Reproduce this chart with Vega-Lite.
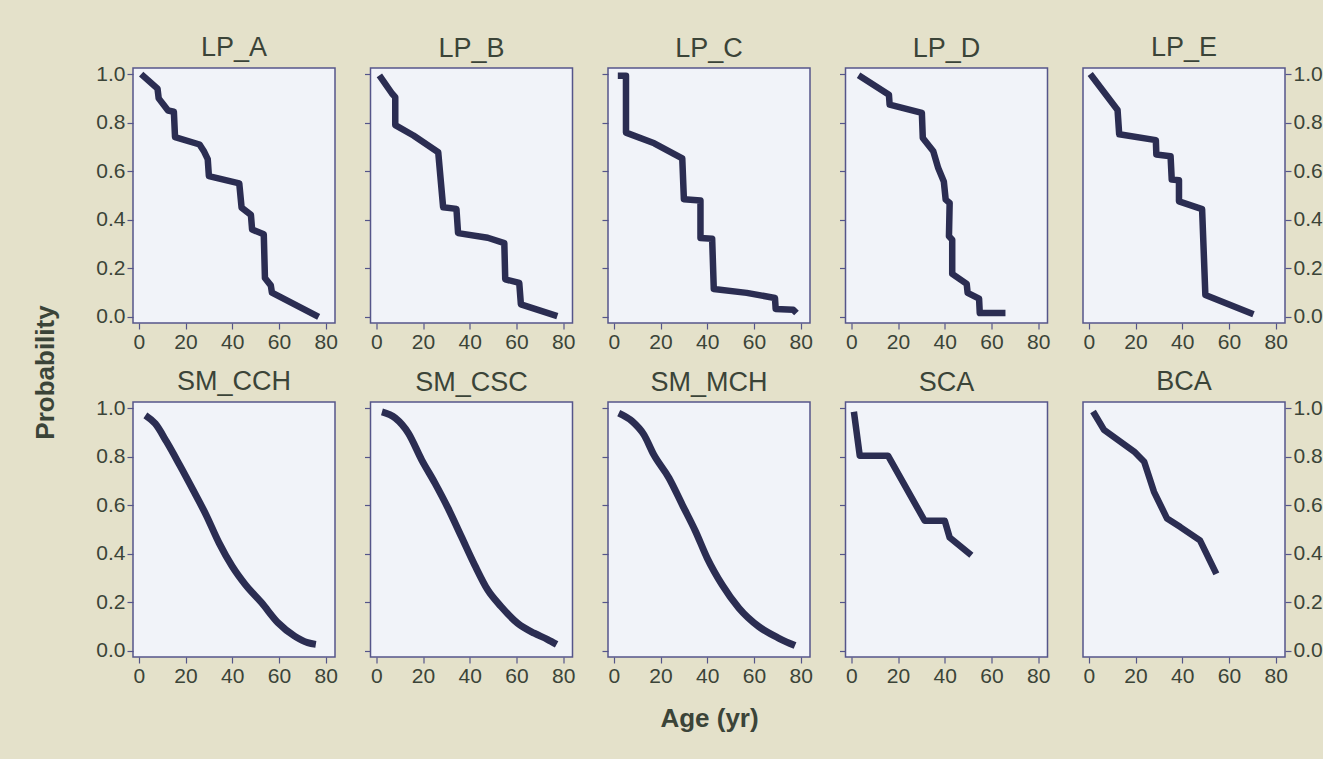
{
  "$schema": "https://vega.github.io/schema/vega-lite/v6.json",
  "background": "#e4e1ca",
  "padding": {"left": 31, "top": 33, "right": 0, "bottom": 40},
  "config": {
    "font": "Liberation Sans",
    "view": {"fill": "#f1f3f9", "stroke": "#55558a", "strokeWidth": 1.5},
    "axis": {
      "domain": false, "grid": false,
      "tickColor": "#55558a", "tickSize": 6, "tickWidth": 1.2,
      "labelFont": "Liberation Sans", "labelFontSize": 21, "labelColor": "#3b4438", "labelPadding": 2,
      "titleFont": "Liberation Sans", "titleFontSize": 26, "titleFontWeight": "bold", "titleColor": "#3b4438"
    },
    "title": {"font": "Liberation Sans", "fontSize": 27, "fontWeight": "normal", "color": "#3b4438", "offset": 5, "frame": "group"}
  },
  "data": {"values": [
    {"p":"LP_A","i":1,"age":1,"prob":1.0},{"p":"LP_A","i":2,"age":8,"prob":0.94},{"p":"LP_A","i":3,"age":8.5,"prob":0.9},{"p":"LP_A","i":4,"age":12.5,"prob":0.85},{"p":"LP_A","i":5,"age":15,"prob":0.845},{"p":"LP_A","i":6,"age":15.5,"prob":0.74},{"p":"LP_A","i":7,"age":26,"prob":0.71},{"p":"LP_A","i":8,"age":28,"prob":0.68},{"p":"LP_A","i":9,"age":29.5,"prob":0.65},{"p":"LP_A","i":10,"age":30,"prob":0.58},{"p":"LP_A","i":11,"age":43,"prob":0.55},{"p":"LP_A","i":12,"age":44,"prob":0.45},{"p":"LP_A","i":13,"age":48,"prob":0.42},{"p":"LP_A","i":14,"age":48.5,"prob":0.36},{"p":"LP_A","i":15,"age":53.5,"prob":0.34},{"p":"LP_A","i":16,"age":54,"prob":0.16},{"p":"LP_A","i":17,"age":56.5,"prob":0.13},{"p":"LP_A","i":18,"age":57,"prob":0.1},{"p":"LP_A","i":19,"age":77,"prob":0.0},
    {"p":"LP_B","i":1,"age":1.3,"prob":0.995},{"p":"LP_B","i":2,"age":6.7,"prob":0.92},{"p":"LP_B","i":3,"age":8.1,"prob":0.905},{"p":"LP_B","i":4,"age":8.1,"prob":0.79},{"p":"LP_B","i":5,"age":15.9,"prob":0.747},{"p":"LP_B","i":6,"age":26.5,"prob":0.678},{"p":"LP_B","i":7,"age":28.6,"prob":0.452},{"p":"LP_B","i":8,"age":34.3,"prob":0.445},{"p":"LP_B","i":9,"age":35,"prob":0.345},{"p":"LP_B","i":10,"age":47.7,"prob":0.326},{"p":"LP_B","i":11,"age":54.8,"prob":0.304},{"p":"LP_B","i":12,"age":55.2,"prob":0.155},{"p":"LP_B","i":13,"age":61.2,"prob":0.14},{"p":"LP_B","i":14,"age":61.9,"prob":0.052},{"p":"LP_B","i":15,"age":77.5,"prob":0.003},
    {"p":"LP_C","i":1,"age":1.7,"prob":0.993},{"p":"LP_C","i":2,"age":5.2,"prob":0.993},{"p":"LP_C","i":3,"age":5.2,"prob":0.759},{"p":"LP_C","i":4,"age":17.3,"prob":0.715},{"p":"LP_C","i":5,"age":29.3,"prob":0.653},{"p":"LP_C","i":6,"age":30,"prob":0.485},{"p":"LP_C","i":7,"age":37.1,"prob":0.479},{"p":"LP_C","i":8,"age":37.1,"prob":0.325},{"p":"LP_C","i":9,"age":42.1,"prob":0.322},{"p":"LP_C","i":10,"age":42.8,"prob":0.115},{"p":"LP_C","i":11,"age":56.9,"prob":0.099},{"p":"LP_C","i":12,"age":69,"prob":0.078},{"p":"LP_C","i":13,"age":69.3,"prob":0.033},{"p":"LP_C","i":14,"age":76.8,"prob":0.03},{"p":"LP_C","i":15,"age":78.2,"prob":0.016},
    {"p":"LP_D","i":1,"age":3.1,"prob":0.995},{"p":"LP_D","i":2,"age":16.1,"prob":0.915},{"p":"LP_D","i":3,"age":16.4,"prob":0.874},{"p":"LP_D","i":4,"age":30.2,"prob":0.84},{"p":"LP_D","i":5,"age":30.6,"prob":0.737},{"p":"LP_D","i":6,"age":35.1,"prob":0.682},{"p":"LP_D","i":7,"age":37.2,"prob":0.613},{"p":"LP_D","i":8,"age":39.6,"prob":0.558},{"p":"LP_D","i":9,"age":40.4,"prob":0.483},{"p":"LP_D","i":10,"age":42.1,"prob":0.469},{"p":"LP_D","i":11,"age":41.8,"prob":0.332},{"p":"LP_D","i":12,"age":43.2,"prob":0.318},{"p":"LP_D","i":13,"age":43.2,"prob":0.177},{"p":"LP_D","i":14,"age":49.4,"prob":0.136},{"p":"LP_D","i":15,"age":49.8,"prob":0.099},{"p":"LP_D","i":16,"age":54.7,"prob":0.075},{"p":"LP_D","i":17,"age":55,"prob":0.016},{"p":"LP_D","i":18,"age":66,"prob":0.016},
    {"p":"LP_E","i":1,"age":0.6,"prob":1.0},{"p":"LP_E","i":2,"age":12.3,"prob":0.852},{"p":"LP_E","i":3,"age":13,"prob":0.752},{"p":"LP_E","i":4,"age":28.7,"prob":0.728},{"p":"LP_E","i":5,"age":28.9,"prob":0.669},{"p":"LP_E","i":6,"age":35,"prob":0.662},{"p":"LP_E","i":7,"age":35.5,"prob":0.566},{"p":"LP_E","i":8,"age":38.6,"prob":0.563},{"p":"LP_E","i":9,"age":38.6,"prob":0.476},{"p":"LP_E","i":10,"age":48.5,"prob":0.444},{"p":"LP_E","i":11,"age":49.9,"prob":0.09},{"p":"LP_E","i":12,"age":70.5,"prob":0.011},
    {"p":"SM_CCH","i":1,"age":2.8,"prob":0.97},{"p":"SM_CCH","i":2,"age":7,"prob":0.936},{"p":"SM_CCH","i":3,"age":11.9,"prob":0.861},{"p":"SM_CCH","i":4,"age":17.5,"prob":0.765},{"p":"SM_CCH","i":5,"age":23.2,"prob":0.663},{"p":"SM_CCH","i":6,"age":28.8,"prob":0.56},{"p":"SM_CCH","i":7,"age":34.4,"prob":0.444},{"p":"SM_CCH","i":8,"age":40,"prob":0.348},{"p":"SM_CCH","i":9,"age":45.6,"prob":0.273},{"p":"SM_CCH","i":10,"age":52.6,"prob":0.198},{"p":"SM_CCH","i":11,"age":59.6,"prob":0.116},{"p":"SM_CCH","i":12,"age":66.7,"prob":0.061},{"p":"SM_CCH","i":13,"age":72.3,"prob":0.034},{"p":"SM_CCH","i":14,"age":75.8,"prob":0.027},
    {"p":"SM_CSC","i":1,"age":2.4,"prob":0.984},{"p":"SM_CSC","i":2,"age":8.1,"prob":0.959},{"p":"SM_CSC","i":3,"age":13.7,"prob":0.897},{"p":"SM_CSC","i":4,"age":19.4,"prob":0.787},{"p":"SM_CSC","i":5,"age":25.1,"prob":0.691},{"p":"SM_CSC","i":6,"age":30.7,"prob":0.588},{"p":"SM_CSC","i":7,"age":36.4,"prob":0.471},{"p":"SM_CSC","i":8,"age":42.1,"prob":0.354},{"p":"SM_CSC","i":9,"age":47.7,"prob":0.251},{"p":"SM_CSC","i":10,"age":53.4,"prob":0.183},{"p":"SM_CSC","i":11,"age":60.5,"prob":0.114},{"p":"SM_CSC","i":12,"age":67.6,"prob":0.073},{"p":"SM_CSC","i":13,"age":73.2,"prob":0.048},{"p":"SM_CSC","i":14,"age":77.2,"prob":0.027},
    {"p":"SM_MCH","i":1,"age":2.1,"prob":0.979},{"p":"SM_MCH","i":2,"age":7.9,"prob":0.945},{"p":"SM_MCH","i":3,"age":12.9,"prob":0.89},{"p":"SM_MCH","i":4,"age":17.1,"prob":0.808},{"p":"SM_MCH","i":5,"age":23.6,"prob":0.712},{"p":"SM_MCH","i":6,"age":29.3,"prob":0.602},{"p":"SM_MCH","i":7,"age":35,"prob":0.492},{"p":"SM_MCH","i":8,"age":40,"prob":0.382},{"p":"SM_MCH","i":9,"age":46.4,"prob":0.272},{"p":"SM_MCH","i":10,"age":53.6,"prob":0.176},{"p":"SM_MCH","i":11,"age":62.1,"prob":0.1},{"p":"SM_MCH","i":12,"age":70.7,"prob":0.052},{"p":"SM_MCH","i":13,"age":77.6,"prob":0.022},
    {"p":"SCA","i":1,"age":1.1,"prob":0.985},{"p":"SCA","i":2,"age":3.6,"prob":0.804},{"p":"SCA","i":3,"age":15.7,"prob":0.804},{"p":"SCA","i":4,"age":31.4,"prob":0.536},{"p":"SCA","i":5,"age":40,"prob":0.536},{"p":"SCA","i":6,"age":42.1,"prob":0.467},{"p":"SCA","i":7,"age":51.4,"prob":0.394},
    {"p":"BCA","i":1,"age":1.8,"prob":0.986},{"p":"BCA","i":2,"age":6.5,"prob":0.91},{"p":"BCA","i":3,"age":19.4,"prob":0.821},{"p":"BCA","i":4,"age":23.7,"prob":0.779},{"p":"BCA","i":5,"age":27.9,"prob":0.655},{"p":"BCA","i":6,"age":33.5,"prob":0.545},{"p":"BCA","i":7,"age":39.2,"prob":0.51},{"p":"BCA","i":8,"age":47.6,"prob":0.455},{"p":"BCA","i":9,"age":54.6,"prob":0.317}
  ]},
  "columns": 5,
  "spacing": {"row": 79, "column": 35.5},
  "bounds": "flush",
  "concat": [
      {"width": 202, "height": 255, "title": {"text": "LP_A", "dy": 4}, "transform": [{"filter": "datum.p === 'LP_A'"}],
       "mark": {"type": "line", "color": "#2b2d52", "strokeWidth": 6.5, "strokeJoin": "round"},
       "encoding": {"x": {"field": "age", "type": "quantitative", "scale": {"domain": [-2.5, 84], "nice": false, "zero": false}, "axis": {"values": [0,20,40,60,80], "format": "d", "title": null}},
        "y": {"field": "prob", "type": "quantitative", "scale": {"domain": [-0.025, 1.025], "nice": false, "zero": false}, "axis": {"values": [0,0.2,0.4,0.6,0.8,1.0], "format": ".1f", "title": "Probability", "titleX": -75, "titleY": 304}},
        "order": {"field": "i"}}},
      {"width": 202, "height": 255, "title": "LP_B", "transform": [{"filter": "datum.p === 'LP_B'"}],
       "mark": {"type": "line", "color": "#2b2d52", "strokeWidth": 6.5, "strokeJoin": "round"},
       "encoding": {"x": {"field": "age", "type": "quantitative", "scale": {"domain": [-2.5, 84], "nice": false, "zero": false}, "axis": {"values": [0,20,40,60,80], "format": "d", "title": null}},
        "y": {"field": "prob", "type": "quantitative", "scale": {"domain": [-0.025, 1.025], "nice": false, "zero": false}, "axis": {"values": [0,0.2,0.4,0.6,0.8,1.0], "labels": false, "title": null}},
        "order": {"field": "i"}}},
      {"width": 202, "height": 255, "title": "LP_C", "transform": [{"filter": "datum.p === 'LP_C'"}],
       "mark": {"type": "line", "color": "#2b2d52", "strokeWidth": 6.5, "strokeJoin": "round"},
       "encoding": {"x": {"field": "age", "type": "quantitative", "scale": {"domain": [-2.5, 84], "nice": false, "zero": false}, "axis": {"values": [0,20,40,60,80], "format": "d", "title": null}},
        "y": {"field": "prob", "type": "quantitative", "scale": {"domain": [-0.025, 1.025], "nice": false, "zero": false}, "axis": {"values": [0,0.2,0.4,0.6,0.8,1.0], "labels": false, "title": null}},
        "order": {"field": "i"}}},
      {"width": 202, "height": 255, "title": "LP_D", "transform": [{"filter": "datum.p === 'LP_D'"}],
       "mark": {"type": "line", "color": "#2b2d52", "strokeWidth": 6.5, "strokeJoin": "round"},
       "encoding": {"x": {"field": "age", "type": "quantitative", "scale": {"domain": [-2.5, 84], "nice": false, "zero": false}, "axis": {"values": [0,20,40,60,80], "format": "d", "title": null}},
        "y": {"field": "prob", "type": "quantitative", "scale": {"domain": [-0.025, 1.025], "nice": false, "zero": false}, "axis": {"values": [0,0.2,0.4,0.6,0.8,1.0], "labels": false, "title": null}},
        "order": {"field": "i"}}},
      {"width": 202, "height": 255, "title": {"text": "LP_E", "dy": 4}, "transform": [{"filter": "datum.p === 'LP_E'"}],
       "mark": {"type": "line", "color": "#2b2d52", "strokeWidth": 6.5, "strokeJoin": "round"},
       "encoding": {"x": {"field": "age", "type": "quantitative", "scale": {"domain": [-2.5, 84], "nice": false, "zero": false}, "axis": {"values": [0,20,40,60,80], "format": "d", "title": null}},
        "y": {"field": "prob", "type": "quantitative", "scale": {"domain": [-0.025, 1.025], "nice": false, "zero": false}, "axis": {"orient": "right", "values": [0,0.2,0.4,0.6,0.8,1.0], "format": ".1f", "title": null}},
        "order": {"field": "i"}}},
      {"width": 202, "height": 255, "title": {"text": "SM_CCH", "dy": 4}, "transform": [{"filter": "datum.p === 'SM_CCH'"}],
       "mark": {"type": "line", "color": "#2b2d52", "strokeWidth": 7, "strokeJoin": "round", "interpolate": "monotone"},
       "encoding": {"x": {"field": "age", "type": "quantitative", "scale": {"domain": [-2.5, 84], "nice": false, "zero": false}, "axis": {"values": [0,20,40,60,80], "format": "d", "title": null}},
        "y": {"field": "prob", "type": "quantitative", "scale": {"domain": [-0.025, 1.025], "nice": false, "zero": false}, "axis": {"values": [0,0.2,0.4,0.6,0.8,1.0], "format": ".1f", "title": null}},
        "order": {"field": "i"}}},
      {"width": 202, "height": 255, "title": "SM_CSC", "transform": [{"filter": "datum.p === 'SM_CSC'"}],
       "mark": {"type": "line", "color": "#2b2d52", "strokeWidth": 7, "strokeJoin": "round", "interpolate": "monotone"},
       "encoding": {"x": {"field": "age", "type": "quantitative", "scale": {"domain": [-2.5, 84], "nice": false, "zero": false}, "axis": {"values": [0,20,40,60,80], "format": "d", "title": null}},
        "y": {"field": "prob", "type": "quantitative", "scale": {"domain": [-0.025, 1.025], "nice": false, "zero": false}, "axis": {"values": [0,0.2,0.4,0.6,0.8,1.0], "labels": false, "title": null}},
        "order": {"field": "i"}}},
      {"width": 202, "height": 255, "title": "SM_MCH", "transform": [{"filter": "datum.p === 'SM_MCH'"}],
       "mark": {"type": "line", "color": "#2b2d52", "strokeWidth": 7, "strokeJoin": "round", "interpolate": "monotone"},
       "encoding": {"x": {"field": "age", "type": "quantitative", "scale": {"domain": [-2.5, 84], "nice": false, "zero": false}, "axis": {"values": [0,20,40,60,80], "format": "d", "title": "Age (yr)", "titlePadding": 19}},
        "y": {"field": "prob", "type": "quantitative", "scale": {"domain": [-0.025, 1.025], "nice": false, "zero": false}, "axis": {"values": [0,0.2,0.4,0.6,0.8,1.0], "labels": false, "title": null}},
        "order": {"field": "i"}}},
      {"width": 202, "height": 255, "title": "SCA", "transform": [{"filter": "datum.p === 'SCA'"}],
       "mark": {"type": "line", "color": "#2b2d52", "strokeWidth": 6.5, "strokeJoin": "round"},
       "encoding": {"x": {"field": "age", "type": "quantitative", "scale": {"domain": [-2.5, 84], "nice": false, "zero": false}, "axis": {"values": [0,20,40,60,80], "format": "d", "title": null}},
        "y": {"field": "prob", "type": "quantitative", "scale": {"domain": [-0.025, 1.025], "nice": false, "zero": false}, "axis": {"values": [0,0.2,0.4,0.6,0.8,1.0], "labels": false, "title": null}},
        "order": {"field": "i"}}},
      {"width": 202, "height": 255, "title": {"text": "BCA", "dy": 4}, "transform": [{"filter": "datum.p === 'BCA'"}],
       "mark": {"type": "line", "color": "#2b2d52", "strokeWidth": 6.5, "strokeJoin": "round"},
       "encoding": {"x": {"field": "age", "type": "quantitative", "scale": {"domain": [-2.5, 84], "nice": false, "zero": false}, "axis": {"values": [0,20,40,60,80], "format": "d", "title": null}},
        "y": {"field": "prob", "type": "quantitative", "scale": {"domain": [-0.025, 1.025], "nice": false, "zero": false}, "axis": {"orient": "right", "values": [0,0.2,0.4,0.6,0.8,1.0], "format": ".1f", "title": null}},
        "order": {"field": "i"}}}
  ]
}
